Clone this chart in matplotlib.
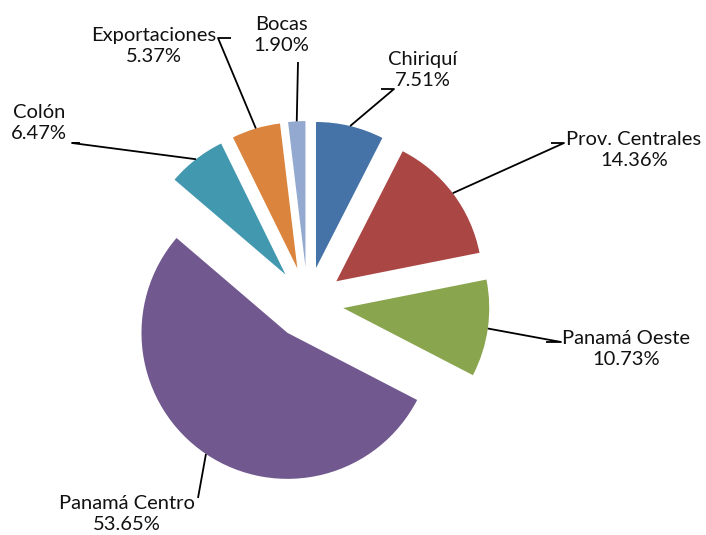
import numpy as np
import matplotlib
matplotlib.use("Agg")
import matplotlib.pyplot as plt

regiones = ["Chiriquí", "Prov. Centrales", "Panamá Oeste", "Panamá Centro",
            "Colón", "Exportaciones", "Bocas"]
porcentajes = [7.51, 14.36, 10.73, 53.65, 6.47, 5.37, 1.90]
colores = ["#4572A7", "#AA4643", "#89A54E", "#71588F",
           "#4198AF", "#DB843D", "#93A9CF"]

W, H = 706, 535
radio = 146
separacion = 36
centro = (307.6, H - 303)

# text centre and elbow of the leader line (image pixel coords, y down)
etiquetas = {
    "Chiriquí": ((423, 70), [(394, 89), (381, 89)]),
    "Prov. Centrales": ((634, 150), [(564, 143), (551, 143)]),
    "Panamá Oeste": ((626, 349), [(561, 342), (546, 342)]),
    "Panamá Centro": ((127, 514), [(198, 498)]),
    "Colón": ((39, 123), [(72, 143), (80, 143)]),
    "Exportaciones": ((154, 46), [(218, 38), (231, 38)]),
    "Bocas": ((281, 35), [(298, 62)]),
}

plt.rcParams["font.family"] = ["Lato", "DejaVu Sans"]

fig = plt.figure(figsize=(W / 100, H / 100), dpi=100)
ax = fig.add_axes([0, 0, 1, 1])

wedges, _ = ax.pie(porcentajes, colors=colores, startangle=90, counterclock=False,
                   radius=radio, center=centro,
                   explode=[separacion] * len(porcentajes),
                   wedgeprops=dict(linewidth=0))

ax.set_xlim(0, W)
ax.set_ylim(0, H)
ax.set_aspect("equal")
ax.axis("off")

for w, nombre, pct in zip(wedges, regiones, porcentajes):
    ang = np.deg2rad((w.theta1 + w.theta2) / 2)
    px = w.center[0] + w.r * np.cos(ang)
    py = w.center[1] + w.r * np.sin(ang)
    (tx, ty), codo = etiquetas[nombre]
    xs = [p[0] for p in codo[::-1]] + [px]
    ys = [H - p[1] for p in codo[::-1]] + [py]
    ax.plot(xs, ys, color="black", linewidth=1.3, solid_capstyle="butt")
    ax.text(tx, H - ty, f"{nombre}\n{pct:.2f}%", ha="center", va="center",
            fontsize=14.5, linespacing=1.22, color="#111111")

fig.savefig("out.png", dpi=100)
